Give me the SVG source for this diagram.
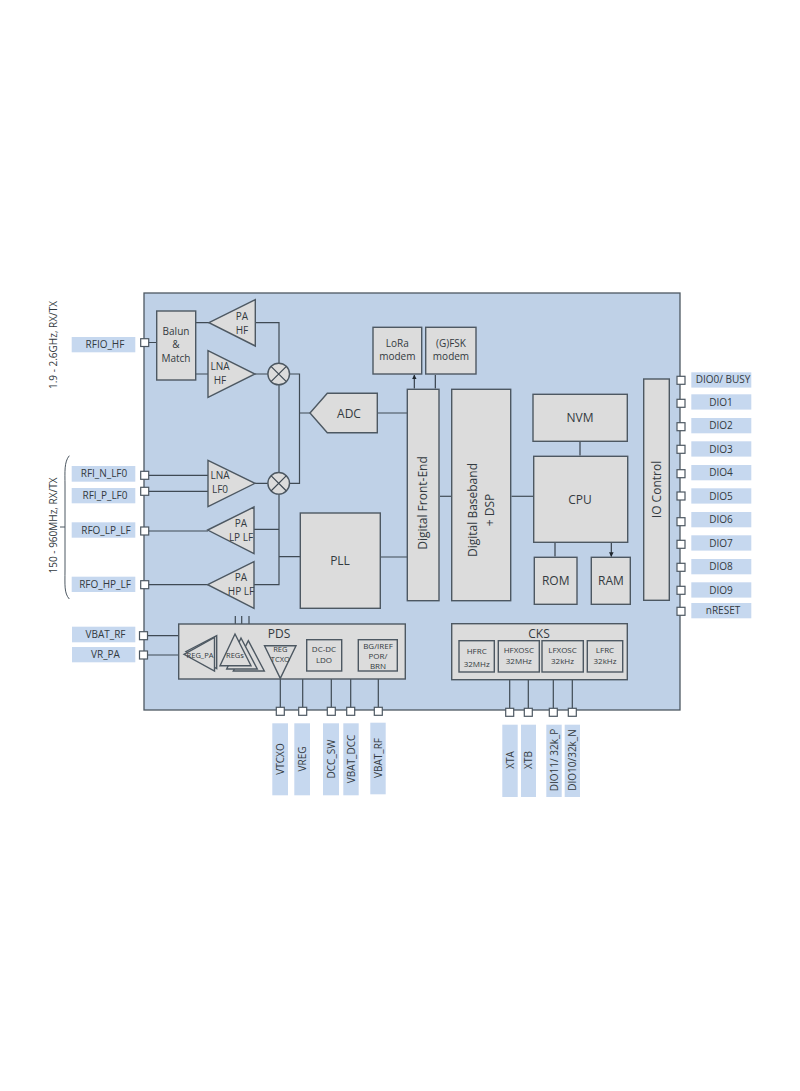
<svg xmlns="http://www.w3.org/2000/svg" width="800" height="1091" viewBox="0 0 800 1091">
<style>
text{font-family:"Open Sans","Noto Sans","Liberation Sans",sans-serif;fill:#333a40;text-anchor:middle;font-size:10px}
.b{fill:#dcdcdc;stroke:#4d5862;stroke-width:1.4}
.l{fill:#c6d8ef;stroke:none}
.p{fill:#fff;stroke:#4d5862;stroke-width:1.2}
.w{fill:none;stroke:#3f4a54;stroke-width:1.2}
.a{fill:none;stroke:#2b343c;stroke-width:1.1;marker-start:url(#ah);marker-end:url(#ah)}
.t12{font-size:12px}.t11{font-size:11px}.t9{font-size:9px}.t8{font-size:8px}.t7{font-size:7.5px}
</style>
<defs>
<marker id="ah" viewBox="0 0 6 6" refX="5.5" refY="3" markerWidth="4.6" markerHeight="4.6" orient="auto-start-reverse" markerUnits="userSpaceOnUse"><path d="M0,0L6,3L0,6z" fill="#1f272e"/></marker>
</defs>
<rect width="800" height="1091" fill="#fff"/>
<g id="chip"><rect x="144" y="293" width="536" height="417" fill="#bfd1e7" stroke="#4d5862" stroke-width="1.3"/></g>

<g id="connectors">
<path class="w" d="M148 342.5H157M195.7 322.7H209M195.7 374H208M255 322.7H279V363M255 374H268M279 385V472M255 483.3H268M289.7 374H299.5V483.3H289.7M299.5 413H310M148 475.3H208M148 491.3H208M148 531H208M148 584.7H208M254 529.3H279M254 584.7H279V494M279 556.7H300.3M377.3 413H407.3M380.3 557H407.3"/>
<path class="w" d="M148 635.7H202.3V643M148 655H184M235.3 616V636M241.7 616V640M249 616V642M256 655.7H306.7M341.7 655.7H358.3M280.3 678V707M302.7 655.7V707M331.3 671V707M350.7 655.7V707M378.3 671V707M509.7 672V708M528.3 672V708M553.3 672V708M572.3 672V708"/>
<path class="a" d="M414.3 375V388.5M435.3 375V388.5M440 496.3H451M511.5 496.3H533M580 442V455.5M555 543V556.5M611.3 543V556.5"/>
<path fill="none" stroke="#4d5862" stroke-width="1" d="M69.3 455.7C64 462 65 472 65 485V570C65 585 64 593 69.3 599M60 527H65"/>
</g>

<g id="balun"><rect class="b" x="156.7" y="311" width="39" height="69"/><text x="176" y="335" class="t10">Balun</text><text x="176" y="348">&amp;</text><text x="176" y="362">Match</text></g>
<g id="pa-hf"><path class="b" d="M209 322.7L255.3 299.7V346z"/><text x="242" y="320">PA</text><text x="242" y="333.500">HF</text></g>
<g id="lna-hf"><path class="b" d="M208 350.7L255 374L208 397.300z"/><text x="220" y="370">LNA</text><text x="220" y="384">HF</text></g>
<g id="lna-lf0"><path class="b" d="M208 460.3L255 483.3L208 506.700z"/><text x="220" y="479">LNA</text><text x="220" y="493">LF0</text></g>
<g id="pa-lp-lf"><path class="b" d="M207.7 530L254 507V553.700z"/><text x="241" y="527">PA</text><text x="241" y="541">LP LF</text></g>
<g id="pa-hp-lf"><path class="b" d="M207.7 584.7L254 561.7V608.300z"/><text x="241" y="581">PA</text><text x="241" y="595">HP LF</text></g>
<g id="mixer-hf"><circle class="b" cx="278.700" cy="374" r="10.800"/><path class="w" d="M271 366.300L286.400 381.700M286.400 366.300L271 381.700"/></g>
<g id="mixer-lf"><circle class="b" cx="278.700" cy="483.300" r="10.800"/><path class="w" d="M271 475.600L286.400 491M286.400 475.600L271 491"/></g>
<g id="adc"><path class="b" d="M310 413L327.300 393.300H377.300V432.700H327.300z"/><text x="349" y="417.500" class="t12">ADC</text></g>
<g id="pll"><rect class="b" x="300.300" y="513" width="80" height="95.300"/><text x="340" y="565" class="t12">PLL</text></g>
<g id="lora"><rect class="b" x="373" y="327.300" width="48.700" height="46.700"/><text x="397.300" y="347">LoRa</text><text x="397.300" y="360">modem</text></g>
<g id="gfsk"><rect class="b" x="425.700" y="327.300" width="50.300" height="46.700"/><text x="451" y="347">(G)FSK</text><text x="451" y="360">modem</text></g>
<g id="dfe"><rect class="b" x="407.300" y="389.300" width="31.700" height="211.400"/><text transform="translate(427 503) rotate(-90)" class="t12">Digital Front-End</text></g>
<g id="dsp"><rect class="b" x="451.700" y="389.300" width="59" height="211.400"/><text transform="translate(477 510) rotate(-90)" class="t12">Digital Baseband</text><text transform="translate(494 510) rotate(-90)" class="t12">+ DSP</text></g>
<g id="nvm"><rect class="b" x="533" y="394.300" width="94.300" height="47"/><text x="580" y="422" class="t12">NVM</text></g>
<g id="cpu"><rect class="b" x="533.700" y="456.300" width="94" height="86"/><text x="580" y="503.500" class="t12">CPU</text></g>
<g id="rom"><rect class="b" x="534.300" y="557.300" width="42.700" height="47"/><text x="555.700" y="585" class="t12">ROM</text></g>
<g id="ram"><rect class="b" x="591.300" y="557.300" width="39" height="47"/><text x="611" y="585" class="t12">RAM</text></g>
<g id="io-control"><rect class="b" x="643.700" y="379" width="25.600" height="221.300"/><text transform="translate(660.500 489.500) rotate(-90)" class="t12">IO Control</text></g>

<g id="pds">
<rect class="b" x="178.700" y="624" width="226.600" height="55"/>
<text x="279" y="637.500" class="t12">PDS</text>
<g id="reg-pa"><path class="b" d="M186 651.500L216.700 635.700V668.500z"/><path class="b" d="M184 654.300L214.500 637.500V671z"/><text x="200" y="657.500" class="t7">REG_PA</text></g>
<g id="regs"><path class="b" d="M248.300 640.700L264.300 671H233.300z"/><path class="b" d="M241 638L257.300 669H226.700z"/><path class="b" d="M235 634L251 665.700H220z"/><text x="235" y="658" class="t7">REGs</text></g>
<g id="reg-tcxo"><path class="b" d="M264.500 645.700H296L280.300 678.300z" fill-opacity=".75"/><text x="280.300" y="652" class="t7">REG</text><text x="280.300" y="661.500" class="t7">TCXO</text></g>
<g id="dc-dc"><rect class="b" x="306.700" y="639.700" width="35" height="31.300"/><text x="324" y="652" class="t8">DC-DC</text><text x="324" y="663" class="t8">LDO</text></g>
<g id="bg"><rect class="b" x="358.300" y="639.700" width="39" height="31.300"/><text x="378" y="648.500" class="t8">BG/IREF</text><text x="378" y="658.500" class="t8">POR/</text><text x="378" y="669" class="t8">BRN</text></g>
</g>

<g id="cks">
<rect class="b" x="451.700" y="623.700" width="175.600" height="56"/>
<text x="539" y="637.500" class="t12">CKS</text>
<g id="hfrc"><rect class="b" x="459" y="640.700" width="35.300" height="31.300"/><text x="476.700" y="654" class="t8">HFRC</text><text x="476.700" y="667" class="t8">32MHz</text></g>
<g id="hfxosc"><rect class="b" x="498.300" y="640.700" width="41" height="31.300"/><text x="518.800" y="653" class="t8">HFXOSC</text><text x="518.800" y="664" class="t8">32MHz</text></g>
<g id="lfxosc"><rect class="b" x="542" y="640.700" width="41.300" height="31.300"/><text x="562.500" y="653" class="t8">LFXOSC</text><text x="562.500" y="664" class="t8">32kHz</text></g>
<g id="lfrc"><rect class="b" x="587.300" y="640.700" width="35.400" height="31.300"/><text x="605" y="653" class="t8">LFRC</text><text x="605" y="664" class="t8">32kHz</text></g>
</g>

<g id="freq-labels">
<text transform="translate(56.500 345) rotate(-90)">1.9 - 2.6GHz, RX/TX</text>
<text transform="translate(56.500 525.500) rotate(-90)">150 - 960MHz, RX/TX</text>
</g>

<g id="pin-rfio-hf"><rect class="l" x="71.700" y="337" width="63.600" height="15.300"/><text x="105" y="348">RFIO_HF</text><rect class="p" x="140.700" y="338.700" width="8" height="7.800"/></g>
<g id="pin-rfi-n"><rect class="l" x="71.700" y="466" width="63.600" height="15.700"/><text x="104" y="477">RFI_N_LF0</text><rect class="p" x="140.700" y="471.300" width="8" height="8"/></g>
<g id="pin-rfi-p"><rect class="l" x="71.700" y="488" width="63.600" height="15.300"/><text x="105" y="499">RFI_P_LF0</text><rect class="p" x="140.700" y="487.300" width="8" height="8"/></g>
<g id="pin-rfo-lp"><rect class="l" x="71.700" y="522.300" width="63.600" height="15.400"/><text x="106" y="533.500">RFO_LP_LF</text><rect class="p" x="140.700" y="527" width="8" height="8"/></g>
<g id="pin-rfo-hp"><rect class="l" x="71.700" y="576.700" width="63.600" height="15.300"/><text x="105" y="588">RFO_HP_LF</text><rect class="p" x="140.700" y="580.700" width="8" height="8"/></g>
<g id="pin-vbat-rf"><rect class="l" x="72" y="626.700" width="63.300" height="15.600"/><text x="105.500" y="638">VBAT_RF</text><rect class="p" x="139.500" y="631.700" width="8" height="8"/></g>
<g id="pin-vr-pa"><rect class="l" x="72" y="647" width="63.300" height="15.300"/><text x="105.500" y="658">VR_PA</text><rect class="p" x="139.500" y="651" width="8" height="8"/></g>

<g id="pin-dio0"><rect class="l" x="691.300" y="372.300" width="60" height="15.300"/><text x="723" y="383">DIO0/ BUSY</text><rect class="p" x="677" y="376.300" width="8" height="8"/></g>
<g id="pin-dio1"><rect class="l" x="691.300" y="394.300" width="60" height="15.300"/><text x="721" y="405.500">DIO1</text><rect class="p" x="677" y="399.300" width="8" height="8"/></g>
<g id="pin-dio2"><rect class="l" x="691.300" y="418" width="60" height="15.300"/><text x="721" y="429">DIO2</text><rect class="p" x="677" y="422.700" width="8" height="8"/></g>
<g id="pin-dio3"><rect class="l" x="691.300" y="441.300" width="60" height="15.300"/><text x="721" y="452.500">DIO3</text><rect class="p" x="677" y="445.300" width="8" height="8"/></g>
<g id="pin-dio4"><rect class="l" x="691.300" y="465" width="60" height="15.300"/><text x="721" y="476">DIO4</text><rect class="p" x="677" y="469.700" width="8" height="8"/></g>
<g id="pin-dio5"><rect class="l" x="691.300" y="488.300" width="60" height="15.300"/><text x="721" y="499.500">DIO5</text><rect class="p" x="677" y="492" width="8" height="8"/></g>
<g id="pin-dio6"><rect class="l" x="691.300" y="512" width="60" height="15.300"/><text x="721" y="523">DIO6</text><rect class="p" x="677" y="517.700" width="8" height="8"/></g>
<g id="pin-dio7"><rect class="l" x="691.300" y="535.300" width="60" height="15.300"/><text x="721" y="546.500">DIO7</text><rect class="p" x="677" y="540.300" width="8" height="8"/></g>
<g id="pin-dio8"><rect class="l" x="691.300" y="559" width="60" height="15.300"/><text x="721" y="570">DIO8</text><rect class="p" x="677" y="563.300" width="8" height="8"/></g>
<g id="pin-dio9"><rect class="l" x="691.300" y="582.300" width="60" height="15.300"/><text x="721" y="593.500">DIO9</text><rect class="p" x="677" y="586.300" width="8" height="8"/></g>
<g id="pin-nreset"><rect class="l" x="691.300" y="603" width="60" height="15.300"/><text x="723" y="614">nRESET</text><rect class="p" x="677" y="607.300" width="8" height="8"/></g>

<g id="pin-vtcxo"><rect class="p" x="276.300" y="707.300" width="8" height="8"/><rect class="l" x="272.300" y="723.300" width="15.700" height="72"/><text transform="translate(283.500 759) rotate(-90)">VTCXO</text></g>
<g id="pin-vreg"><rect class="p" x="298.700" y="707.300" width="8" height="8"/><rect class="l" x="294.300" y="723.300" width="15.700" height="72"/><text transform="translate(305.500 759) rotate(-90)">VREG</text></g>
<g id="pin-dcc-sw"><rect class="p" x="327.300" y="707.300" width="8" height="8"/><rect class="l" x="323" y="723.300" width="16" height="72"/><text transform="translate(334.500 759) rotate(-90)">DCC_SW</text></g>
<g id="pin-vbat-dcc"><rect class="p" x="346.700" y="707.300" width="8" height="8"/><rect class="l" x="343.300" y="723.300" width="15.400" height="72"/><text transform="translate(354.500 759) rotate(-90)">VBAT_DCC</text></g>
<g id="pin-vbat-rf2"><rect class="p" x="374.300" y="707.300" width="8" height="8"/><rect class="l" x="370.300" y="722.700" width="15.400" height="71.600"/><text transform="translate(381.500 758) rotate(-90)">VBAT_RF</text></g>
<g id="pin-xta"><rect class="p" x="505.700" y="708.300" width="8" height="8"/><rect class="l" x="502.300" y="724.700" width="15.400" height="72.300"/><text transform="translate(513.500 760) rotate(-90)">XTA</text></g>
<g id="pin-xtb"><rect class="p" x="524.300" y="708.300" width="8" height="8"/><rect class="l" x="521" y="724.700" width="15" height="72.300"/><text transform="translate(532 760) rotate(-90)">XTB</text></g>
<g id="pin-dio11"><rect class="p" x="549.300" y="708.300" width="8" height="8"/><rect class="l" x="546.300" y="724.700" width="15.400" height="72.300"/><text transform="translate(557.500 760) rotate(-90)">DIO11/ 32k_P</text></g>
<g id="pin-dio10"><rect class="p" x="568.300" y="708.300" width="8" height="8"/><rect class="l" x="564.700" y="724.700" width="15.300" height="72.300"/><text transform="translate(576 760) rotate(-90)">DIO10/32k_N</text></g>
</svg>
